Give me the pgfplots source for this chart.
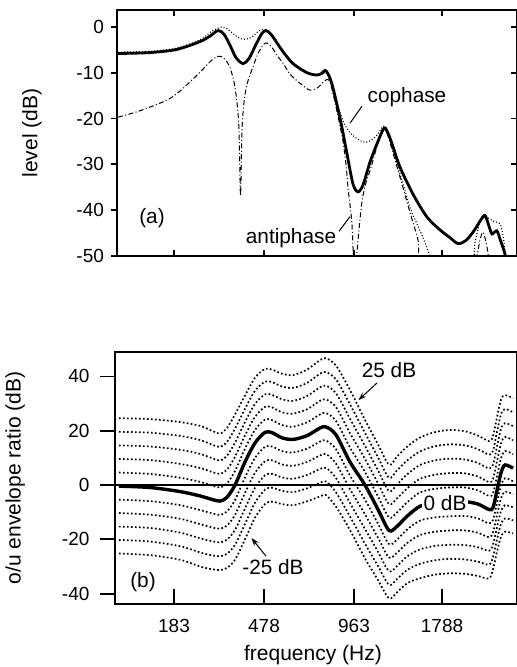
\documentclass[border=0pt]{standalone}
\usepackage{fontspec}
\setmainfont{Liberation Sans}
\usepackage{pgfplots}
\usepackage{pgfplotstable}
\pgfplotsset{compat=1.18}
\usetikzlibrary{arrows.meta}

\newcommand{\annot}{\fontsize{10.4}{12}\selectfont}

% o/u envelope ratio, one column per level offset (-25 ... +25 dB); x = position on the warped frequency axis
\pgfplotstableread{
x   m25   m20   m15   m10   m5    s     p5    p10   p15   p20   p25
119 -25.2 -20.2 -15.3 -10.3 -5.4  -0.4  4.6   9.6   14.6  19.6  24.6
150 -25.8 -20.8 -15.8 -10.9 -5.9  -0.9  4.1   9.2   14.2  19.3  24.3
180 -27.5 -22.5 -17.5 -12.4 -7.4  -2.4  2.7   7.8   13.0  18.1  23.2
200 -30.0 -24.8 -19.6 -14.4 -9.2  -4.0  1.2   6.3   11.5  16.6  21.8
212 -31.0 -25.9 -20.7 -15.6 -10.4 -5.3  -0.2  4.8   9.9   14.9  20.0
220 -31.3 -26.2 -21.1 -16.1 -11.0 -5.9  -0.9  4.1   9.0   14.0  19.0
227 -30.5 -25.3 -20.1 -14.9 -9.7  -4.5  0.6   5.7   10.8  15.9  21.0
235 -27.5 -22.0 -16.5 -11.0 -5.5  0.0   5.2   10.4  15.6  20.8  26.0
245 -20.0 -14.3 -8.6  -2.9  2.8   8.5   13.4  18.3  23.2  28.1  33.0
255 -12.0 -6.5  -1.0  4.5   10.0  15.5  20.3  25.1  29.9  34.7  39.5
265 -7.0  -1.7  3.6   8.8   14.1  19.4  24.1  28.8  33.4  38.1  42.8
272 -6.1  -1.0  4.1   9.1   14.2  19.3  23.9  28.6  33.2  37.9  42.5
282 -7.0  -2.1  2.8   7.6   12.5  17.4  22.1  26.8  31.6  36.3  41.0
293 -7.4  -2.6  2.3   7.1   12.0  16.8  21.5  26.3  31.0  35.8  40.5
307 -6.0  -1.2  3.7   8.5   13.4  18.2  23.1  27.9  32.8  37.6  42.5
320 -4.2  0.8   5.9   10.9  16.0  21.0  26.0  31.0  36.0  41.0  46.0
326 -3.7  1.3   6.3   11.4  16.4  21.4  26.5  31.5  36.6  41.6  46.7
336 -8.0  -2.7  2.6   7.9   13.2  18.5  23.6  28.7  33.8  38.9  44.0
350 -16.6 -11.6 -6.6  -1.5  3.5   8.5   13.8  19.1  24.4  29.7  35.0
365 -27.0 -21.6 -16.2 -10.8 -5.4  0.0   4.8   9.6   14.4  19.2  24.0
378 -35.0 -29.8 -24.6 -19.4 -14.2 -9.0  -4.2  0.6   5.4   10.2  15.0
389 -41.7 -36.7 -31.7 -26.7 -21.7 -16.7 -11.9 -7.0  -2.2  2.7   7.5
397 -39.5 -34.6 -29.8 -24.9 -20.1 -15.2 -10.1 -4.9  0.2   5.4   10.5
407 -36.2 -31.3 -26.3 -21.4 -16.4 -11.5 -6.4  -1.3  3.9   9.0   14.1
420 -34.3 -29.0 -23.7 -18.4 -13.1 -7.8  -2.7  2.3   7.4   12.4  17.5
435 -33.0 -27.7 -22.4 -17.2 -11.9 -6.6  -1.4  3.8   9.1   14.3  19.5
450 -32.5 -27.2 -22.0 -16.7 -11.5 -6.2  -0.9  4.4   9.7   15.0  20.3
465 -32.7 -27.4 -22.1 -16.7 -11.4 -6.1  -0.9  4.3   9.4   14.6  19.8
478 -33.5 -28.2 -22.9 -17.6 -12.3 -7.0  -2.0  3.1   8.1   13.2  18.2
489 -34.4 -29.3 -24.2 -19.2 -14.1 -9.0  -4.0  1.1   6.1   11.2  16.2
493 -31.0 -26.5 -21.9 -17.4 -12.8 -8.3  -3.0  2.2   7.5   12.7  18.0
497 -24.5 -20.0 -15.5 -11.0 -6.5  -2.0  3.4   8.8   14.2  19.6  25.0
501 -19.0 -14.3 -9.6  -4.9  -0.2  4.5   9.9   15.3  20.7  26.1  31.5
505 -17.2 -12.3 -7.4  -2.4  2.5   7.4   12.5  17.7  22.8  28.0  33.1
513 -17.8 -13.0 -8.2  -3.4  1.4   6.2   11.4  16.5  21.7  26.8  32.0
}\envratio

\pgfplotsset{
  panel/.style={scale only axis, axis line style={line width=1pt},
    tick style={black,line width=0.9pt},
    tick label style={font=\fontsize{9.5}{11}\selectfont},
    label style={font=\fontsize{10.5}{12}\selectfont}},
  toppanel/.style={panel, at={(1.25pt,174pt)}, anchor=south west,
    width=200pt, height=123pt, xmin=117, xmax=517, ymin=-50, ymax=3.7},
  botpanel/.style={panel, at={(0pt,0pt)}, anchor=south west,
    width=201.25pt, height=126pt, xmin=114.5, xmax=517, ymin=-43.8, ymax=49},
  single/.style={black, line width=1.4pt, smooth, tension=0.5},
  cophase/.style={black, line width=0.55pt, dash pattern=on 0.5pt off 1pt, smooth, tension=0.5},
  antiphase/.style={black, line width=0.5pt, dash pattern=on 2.5pt off 1.2pt on 0.5pt off 1.2pt, smooth, tension=0.5},
  level/.style={black, line width=0.85pt, dash pattern=on 0.85pt off 1.15pt, smooth, tension=0.5},
}

\begin{document}
\begin{tikzpicture}
\useasboundingbox (-57.25pt,-31.5pt) rectangle (200.75pt,302pt);

% (a) level
\begin{axis}[toppanel,
  xtick={174,264,354,442}, xticklabels={}, xtick pos=both,
  ytick={-50,-40,...,0}, yticklabels={}, ytick pos=right,
  tick align=inside, major tick length=3pt]
\addplot[antiphase] coordinates {(118,-19.7)(140,-18.3)(166.7,-16.0)(180,-14.0)(193.3,-11.3)(203,-9.2)(210,-7.6)(216,-6.6)(220.7,-6.4)(226,-7.3)(230,-8.9)(234,-12.0)(237,-16.5)(239,-22.5)(240.5,-36.8)(242,-22.5)(244,-16.5)(247,-12.5)(253,-8.7)(258,-5.8)(263.3,-3.9)(267,-3.5)(272,-4.5)(277,-6.2)(283.3,-8.0)(290,-10.3)(300,-12.3)(310,-13.8)(318,-13.2)(322,-12.3)(326.7,-11.5)(330,-12.0)(334,-15.5)(338,-19.5)(343,-25.0)(346,-30.0)(348.3,-35.7)(351.7,-42.3)(353.3,-50)(354.5,-60)(356.7,-50)(361.7,-38.6)(366,-34.0)(370,-31.4)(376,-26.8)(380,-24.0)(384.3,-22.3)(388,-23.8)(392,-26.8)(400,-32.8)(410,-40.5)(418,-46.5)(424,-53)(474,-53)(477,-50)(480,-46.5)(483,-44.8)(486,-47)(488.3,-50)(490,-55)};
\addplot[cophase] coordinates {(118,-5.5)(150,-5.3)(177,-4.6)(200,-2.8)(212,-0.9)(223,0.0)(230,-0.9)(238,-2.3)(245,-2.7)(252,-2.2)(258,-1.0)(264,-0.5)(270,-1.2)(277,-3.2)(283,-5.2)(293,-7.8)(307,-9.8)(317,-10.4)(322,-10.3)(326,-10.0)(330,-11.5)(334,-14.5)(339,-18.0)(344,-21.0)(349,-22.8)(354,-23.9)(360,-24.8)(366,-25.2)(372,-24.6)(377,-23.6)(383,-21.7)(386,-22.0)(391,-24.8)(397,-29.8)(404,-35.0)(410,-39.4)(417,-43.0)(423,-46.0)(430,-50.0)(434,-53)(470,-53)(475,-47)(480,-42.5)(483.5,-40.9)(488,-41.6)(493,-42.4)(500,-43.0)(503,-45.5)(505,-49)(507,-53)};
\addplot[single] coordinates {(118,-5.8)(150,-5.6)(177,-4.9)(200,-3.2)(210,-2.0)(218,-0.8)(224,-1.6)(230,-4.0)(236,-6.7)(243,-8.0)(249,-6.9)(256,-3.8)(262,-1.4)(266,-0.8)(271,-1.6)(277,-3.5)(283,-5.4)(293,-8.0)(307,-10.0)(317,-10.5)(322,-10.1)(325,-9.5)(328,-10.2)(332,-12.5)(337,-17.0)(342,-22.0)(347,-27.7)(353,-34.3)(358,-36.0)(363,-34.5)(370,-29.5)(377,-25.5)(384,-22.1)(388,-23.2)(392,-25.5)(400,-30.6)(413,-36.5)(427,-41.5)(440,-44.3)(450,-46.0)(458,-47.3)(466,-46.6)(474,-44.5)(480,-42.4)(485,-41.2)(489,-43.5)(492,-45.2)(496.7,-44.5)(500,-46.3)(505,-49.6)(508,-53)};
\node[font=\annot] at (axis cs:407,-15.3) {cophase};
\draw[line width=0.5pt] (axis cs:362,-17.3) -- (axis cs:350,-21);
\node[font=\annot] at (axis cs:291,-46.1) {antiphase};
\draw[line width=0.5pt] (axis cs:339,-44.6) -- (axis cs:350,-41.4);
\node[font=\annot] at (axis cs:152,-41.7) {(a)};
\end{axis}
\begin{axis}[toppanel, hide x axis,
  ytick={-50,-40,...,0}, yticklabels={-50,-40,-30,-20,-10,0}, ytick pos=left,
  tick align=outside, major tick length=3pt,
  ylabel={level (dB)}, ylabel style={at={(axis description cs:-0.2125,0.5)},anchor=center}]
\end{axis}

% (b) o/u envelope ratio
\begin{axis}[botpanel,
  xtick={174,264,354,442}, xticklabels={183,478,963,1788}, xtick pos=left,
  xticklabel style={yshift=-4pt},
  ytick=\empty, tick align=inside, major tick length=7.5pt,
  xlabel={frequency (Hz)}, xlabel style={at={(axis description cs:0.493,-0.2024)},anchor=center}]
\addplot[black, line width=1pt] coordinates {(114.5,0) (517,0)};
\pgfplotsinvokeforeach{m25,m20,m15,m10,m5,p5,p10,p15,p20,p25}{
  \addplot[level] table[x=x,y=#1] {\envratio};
}
\addplot[black, line width=1.7pt, smooth, tension=0.5] table[x=x,y=s] {\envratio};
\node[font=\annot, fill=white, inner sep=1pt] at (axis cs:445,-6.6) {0 dB};
\node[font=\annot] at (axis cs:389,42.4) {25 dB};
\draw[line width=0.5pt, -{Stealth[length=4pt,width=2.8pt]}] (axis cs:377,37.6) -- (axis cs:358.5,31.3);
\node[font=\annot] at (axis cs:273,-30.2) {-25 dB};
\draw[line width=0.5pt, -{Stealth[length=4pt,width=2.8pt]}] (axis cs:266,-26.2) -- (axis cs:251.5,-19.5);
\node[font=\annot] at (axis cs:143,-35.7) {(b)};
\end{axis}
\begin{axis}[botpanel, hide x axis,
  ytick={-40,-20,...,40}, yticklabels={-40,-20,0,20,40}, ytick pos=left,
  tick align=outside, major tick length=7.5pt, yticklabel style={xshift=-1.5pt},
  ylabel={o/u envelope ratio (dB)}, ylabel style={at={(axis description cs:-0.247,0.5)},anchor=center}]
\end{axis}
\end{tikzpicture}
\end{document}
